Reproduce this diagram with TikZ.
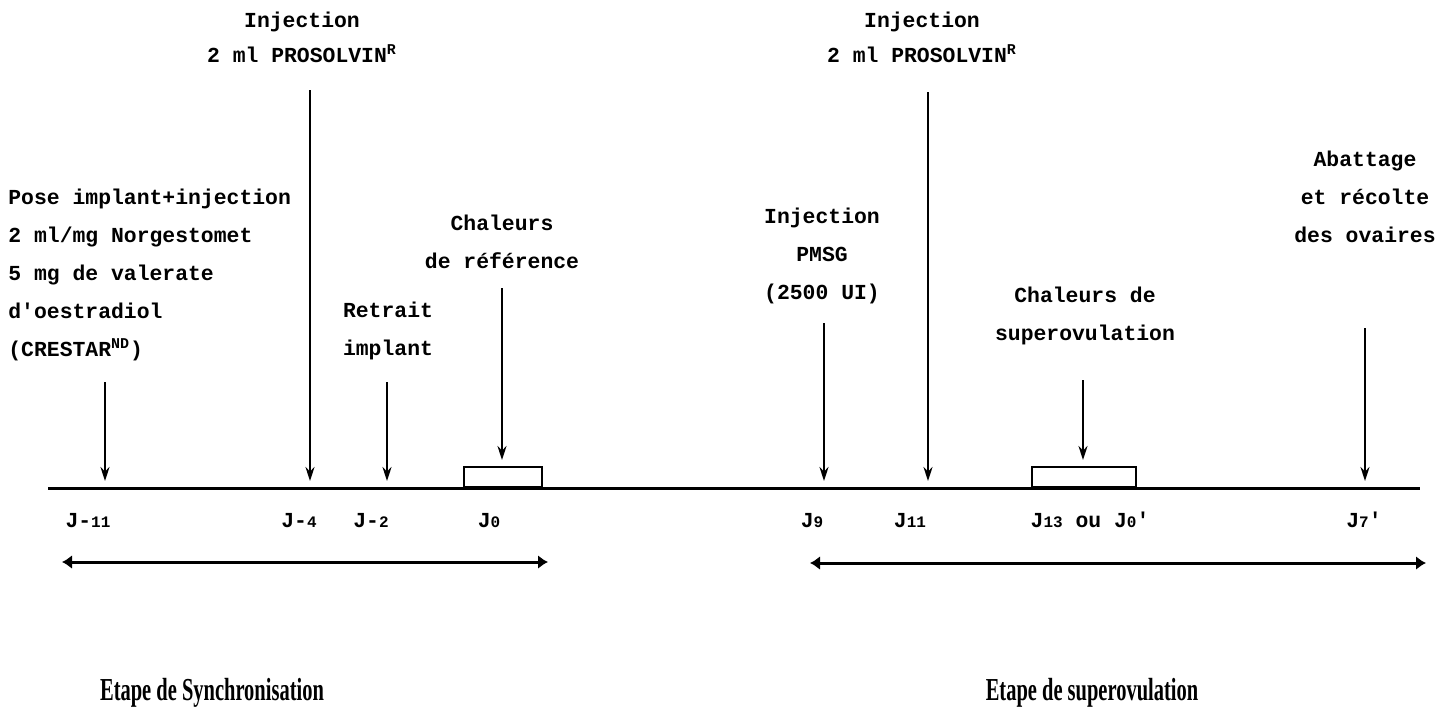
\documentclass[tikz,border=0pt]{standalone}
\usepackage{fontspec}
\setmainfont{Liberation Mono}
\newfontfamily\etapefont{Liberation Serif}
\usetikzlibrary{arrows.meta}
\newcommand\labfont{\fontsize{10.7pt}{18.9pt}\selectfont\bfseries}
\newcommand\jfont{\fontsize{10.7pt}{12pt}\selectfont\bfseries}
\newcommand\jsub[1]{{\fontsize{8pt}{9pt}\selectfont #1}}
\newcommand\apos{\textquotesingle}
\begin{document}
\begin{tikzpicture}[x=0.5pt,y=-0.5pt,
  lab/.style={inner sep=0pt,align=center,font=\labfont},
  jlab/.style={inner sep=0pt,anchor=base,font=\jfont},
  evarrow/.style={line width=1pt,-{Stealth[length=7pt,width=4.5pt]}},
  phase/.style={line width=1.5pt,{Latex[length=5pt,width=7pt]}-{Latex[length=5pt,width=7pt]}},
  etape/.style={inner sep=0pt,anchor=base,font=\etapefont\bfseries\fontsize{16pt}{18pt}\selectfont},
  heatbox/.style={draw,line width=1pt,fill=white}]
\useasboundingbox[fill=white] (0,0) rectangle (1441,714);
% axis
\coordinate (axL) at (48,488);
\coordinate (axR) at (1420,488);
\draw[line width=1.5pt] (axL) -- (axR);
% boxes (heat periods)
\node[heatbox,minimum width=39pt,minimum height=10pt,anchor=south west,inner sep=0pt] (box1) at (463,488) {};
\node[heatbox,minimum width=52pt,minimum height=10pt,anchor=south west,inner sep=0pt] (box2) at (1031,488) {};
% top labels
\node[lab] (inj1) at (302,37) {Injection\\[-1.4pt]2 ml PROSOLVIN\textsuperscript{R}};
\node[lab] (inj2) at (922,37) {Injection\\[-1.4pt]2 ml PROSOLVIN\textsuperscript{R}};
\node[lab,align=left,anchor=west] (pose) at (8,275) {Pose implant+injection\\2 ml/mg Norgestomet\\5 mg de valerate\\d\apos oestradiol\\(CRESTAR\textsuperscript{ND})};
\node[lab] (retrait) at (388,331) {Retrait\\implant};
\node[lab] (chal1) at (502,242) {Chaleurs\\de référence};
\node[lab] (pmsg) at (822,256) {Injection\\PMSG\\(2500 UI)};
\node[lab] (chal2) at (1085,316) {Chaleurs de\\superovulation};
\node[lab] (abat) at (1365,197) {Abattage\\et récolte\\des ovaires};
% arrow start / end points
\coordinate (s1) at (105,382); \coordinate (e1) at (105,481);
\coordinate (s2) at (310,90);  \coordinate (e2) at (310,481);
\coordinate (s3) at (387,382); \coordinate (e3) at (387,481);
\coordinate (s4) at (502,288);
\coordinate (s5) at (824,323); \coordinate (e5) at (824,481);
\coordinate (s6) at (928,92);  \coordinate (e6) at (928,481);
\coordinate (s7) at (1083,380);
\coordinate (s8) at (1365,328); \coordinate (e8) at (1365,481);
\draw[evarrow] (s1) -- (e1);
\draw[evarrow] (s2) -- (e2);
\draw[evarrow] (s3) -- (e3);
\draw[evarrow] (s4) -- ([yshift=3pt]s4 |- box1.north);
\draw[evarrow] (s5) -- (e5);
\draw[evarrow] (s6) -- (e6);
\draw[evarrow] (s7) -- ([yshift=3pt]s7 |- box2.north);
\draw[evarrow] (s8) -- (e8);
% day labels
\node[jlab] (j1) at (88,527) {J-\jsub{11}};
\node[jlab] (j2) at (299,527) {J-\jsub{4}};
\node[jlab] (j3) at (371,527) {J-\jsub{2}};
\node[jlab] (j4) at (489,527) {J\jsub{0}};
\node[jlab] (j5) at (812,527) {J\jsub{9}};
\node[jlab] (j6) at (910,527) {J\jsub{11}};
\node[jlab] (j7) at (1090,527) {J\jsub{13} ou J\jsub{0}\apos};
\node[jlab] (j8) at (1364,527) {J\jsub{7}\apos};
% phase arrows
\coordinate (p1a) at (62,562); \coordinate (p1b) at (548,562);
\coordinate (p2a) at (810,563); \coordinate (p2b) at (1426,563);
\draw[phase] (p1a) -- (p1b);
\draw[phase] (p2a) -- (p2b);
\node[etape] (et1) at (212,700) {\scalebox{0.64}[1]{Etape de Synchronisation}};
\node[etape] (et2) at (1092,700) {\scalebox{0.64}[1]{Etape de superovulation}};
\end{tikzpicture}
\end{document}
